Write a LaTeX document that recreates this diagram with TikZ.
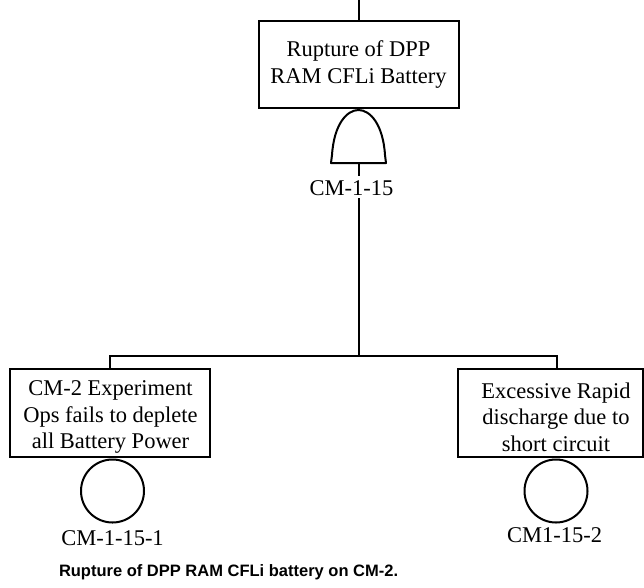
\documentclass[tikz,border=0pt]{standalone}
\usepackage{fontspec}
\setmainfont{Liberation Serif}
\newfontfamily\capfont{Liberation Sans}
\begin{document}
\begin{tikzpicture}[x=1pt,y=-1pt,
  line width=2pt,
  evbox/.style={draw, rectangle, inner sep=2pt, align=center,
    font=\fontsize{22.5}{26.5}\selectfont},
  frame/.style={draw, rectangle, inner sep=0pt},
  evtext/.style={inner sep=0pt, align=center, font=\fontsize{22.5}{26.5}\selectfont},
  basic/.style={draw, circle, minimum size=63pt, inner sep=0pt},
  lbl/.style={inner sep=0pt, anchor=base, font=\fontsize{22.5}{26.5}\selectfont},
  capt/.style={inner sep=0pt, anchor=base west, font=\capfont\bfseries\fontsize{16.5}{20}\selectfont}]
\useasboundingbox (0,0) rectangle (644,587);

% top event
\node[evbox, minimum width=200pt, minimum height=87pt] (top) at (358.5,64.5)
  {Rupture of DPP\\RAM CFLi Battery};
\coordinate (topin) at (358.5,0);
\draw (topin) -- (top.north);

% AND gate
\coordinate (gtop) at (358.5,110);
\coordinate (gbot) at (358.5,163);
\draw[line join=round] (331,163) -- (332,155)
  .. controls (334,124) and (347,110) .. (gtop)
  .. controls (370,110) and (383,124) .. (385,155) -- (386,163) -- cycle;
\node[lbl] (glbl) at (351.5,195) {CM-1-15};
\coordinate (g1) at (358.5,176);
\coordinate (g2) at (358.5,198);
\coordinate (jn) at (358.5,356);
\draw (gbot) -- (g1);
\draw (g2) -- (jn);

% left event
\node[frame, minimum width=200pt, minimum height=88pt] (left) at (110,413) {};
\node[evtext] (ltext) at (110.5,417) {CM-2 Experiment\\Ops fails to deplete\\all Battery Power};
\node[basic] (lc) at (112.5,491) {};
\node[lbl] (llbl) at (112.5,545) {CM-1-15-1};

% right event
\node[frame, minimum width=185pt, minimum height=88pt] (right) at (550,413) {};
\node[evtext] (rtext) at (556,417) {Excessive Rapid\\discharge due to\\short circuit};
\coordinate (rtop) at (556.5,369);
\node[basic] (rc) at (556,491) {};
\node[lbl] (rlbl) at (554.5,542) {CM1-15-2};

% connectors
\draw (left.north) |- (jn) -| (rtop);

% caption
\node[capt] (cap) at (58,576) {Rupture of DPP RAM CFLi battery on CM-2.};
\end{tikzpicture}
\end{document}
